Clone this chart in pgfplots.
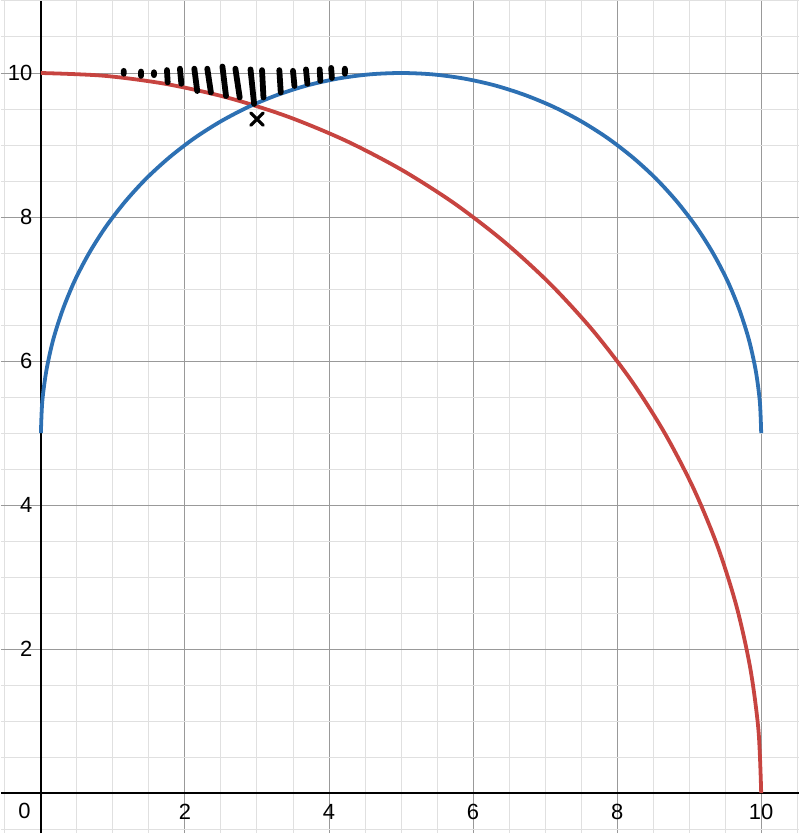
\documentclass[border=0pt]{standalone}
\usepackage{fontspec}
\setmainfont{Liberation Sans}
\usepackage{pgfplots}
\pgfplotsset{compat=1.18}
\definecolor{dred}{HTML}{C74440}
\definecolor{dblue}{HTML}{2D70B3}
\begin{document}
\begin{tikzpicture}
\begin{axis}[
    scale only axis,
    width=400pt, height=417pt,
    xmin=-0.554, xmax=10.526,
    ymin=-0.554, ymax=11.0,
    axis lines=middle,
    axis line style={-, line width=1pt, black},
    xtick={2,4,6,8,10},
    ytick={2,4,6,8,10},
    minor xtick={-0.5,0,...,10.5},
    minor ytick={-0.5,0,...,11},
    major tick length=0pt, minor tick length=0pt,
    grid=both,
    major grid style={line width=0.5pt, black!40},
    minor grid style={line width=0.5pt, black!12},
    tick label style={font=\fontsize{11}{13}\selectfont},
    /pgf/number format/assume math mode=true,
    xticklabel style={anchor=north, yshift=-2pt},
    yticklabel style={anchor=east, xshift=-0.8pt},
    unbounded coords=jump,
    clip=true,
]
% circle x^2+y^2=100, first quadrant
\addplot[dred, line width=1.9pt, smooth, no marks] coordinates {
  (10,0) (9.962,0.872) (9.848,1.736) (9.659,2.588) (9.397,3.420) (9.063,4.226)
  (8.660,5) (8.192,5.736) (7.660,6.428) (7.071,7.071) (6.428,7.660) (5.736,8.192)
  (5,8.660) (4.226,9.063) (3.420,9.397) (2.588,9.659) (1.736,9.848) (0.872,9.962) (0,10)
};
% upper half of circle centred (5,5), r=5
\addplot[dblue, line width=1.9pt, smooth, no marks] coordinates {
  (10,5) (9.981,5.436) (9.924,5.868) (9.830,6.294) (9.698,6.710) (9.532,7.113)
  (9.330,7.5) (9.096,7.868) (8.830,8.214) (8.536,8.536) (8.214,8.830) (7.868,9.096)
  (7.5,9.330) (7.113,9.532) (6.710,9.698) (6.294,9.830) (5.868,9.924) (5.436,9.981)
  (5,10) (4.564,9.981) (4.132,9.924) (3.706,9.830) (3.290,9.698) (2.887,9.532)
  (2.5,9.330) (2.132,9.096) (1.786,8.830) (1.464,8.536) (1.170,8.214) (0.904,7.868)
  (0.670,7.5) (0.468,7.113) (0.302,6.710) (0.170,6.294) (0.076,5.868) (0.019,5.436) (0,5)
};
% hand-drawn hatching
\addplot[black, line width=2.9pt, line cap=round, no marks] coordinates {
  (1.15,10.03) (1.15,9.99) (1.15,nan)
  (1.39,10.02) (1.39,9.96) (1.39,nan)
  (1.57,10.01) (1.57,9.97) (1.57,nan)
  (1.75,10.04) (1.76,9.87) (1.76,nan)
  (1.93,10.06) (1.95,9.85) (1.95,nan)
  (2.13,10.06) (2.17,9.75) (2.17,nan)
  (2.31,10.06) (2.36,9.73) (2.36,nan)
  (2.52,10.09) (2.57,9.68) (2.57,nan)
  (2.70,10.06) (2.76,9.66) (2.76,nan)
  (2.91,10.05) (2.96,9.57) (2.96,nan)
  (3.07,10.04) (3.09,9.66) (3.09,nan)
  (3.31,10.04) (3.33,9.73) (3.33,nan)
  (3.50,10.03) (3.52,9.82) (3.52,nan)
  (3.68,10.05) (3.70,9.85) (3.70,nan)
  (3.87,10.05) (3.88,9.89) (3.88,nan)
  (4.03,10.07) (4.04,9.93) (4.04,nan)
  (4.22,10.06) (4.22,9.99)
};
% cross
\addplot[black, only marks, mark=x, mark size=4.4pt, mark options={line width=1.6pt, line cap=round}] coordinates {(3.0,9.36)};
\node[anchor=north east, font=\fontsize{11}{13}\selectfont, inner sep=0pt, xshift=-5pt, yshift=-5pt] at (axis cs:0,0) {0};
\end{axis}
\end{tikzpicture}
\end{document}
